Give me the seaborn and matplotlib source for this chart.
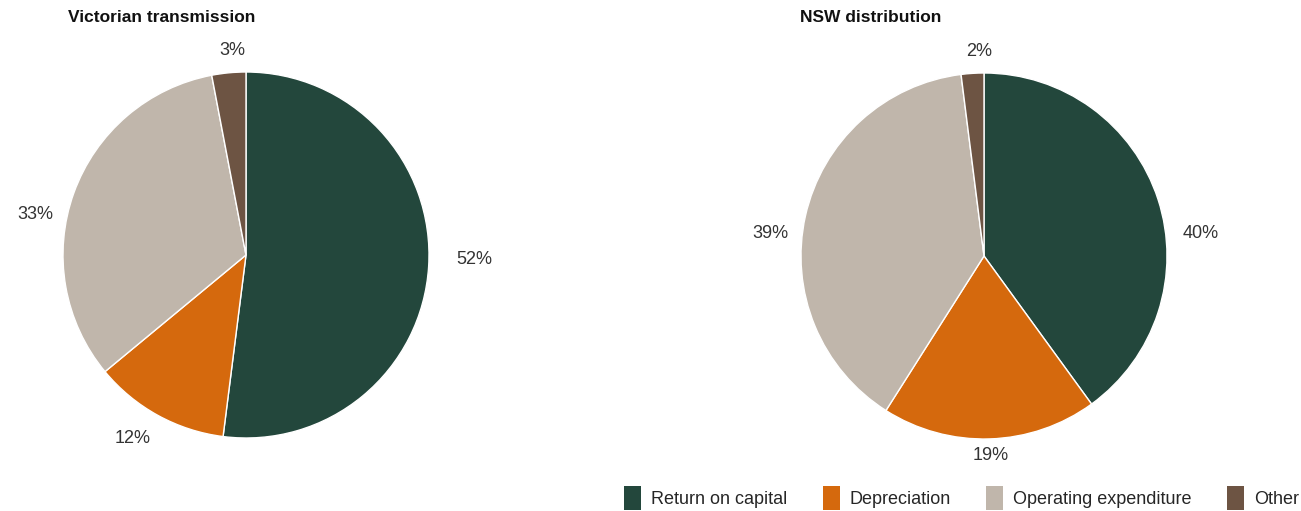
import matplotlib
matplotlib.use("Agg")
import matplotlib.pyplot as plt
import matplotlib.patches as mpatches
import seaborn as sns

# chart data
categories = ["Return on capital", "Depreciation", "Operating expenditure", "Other"]
vic_transmission = [52, 12, 33, 3]
nsw_distribution = [40, 19, 39, 2]
titles = ["Victorian transmission", "NSW distribution"]
colours = ["#23473c", "#d5690d", "#c0b6ab", "#6d5443"]

# where the percentage labels sit, in pie radius units
label_pos = [
    [(1.25, -0.025), (-0.62, -1.0), (-1.15, 0.22), (-0.077, 1.12)],
    [(1.186, 0.125), (0.038, -1.09), (-1.169, 0.125), (-0.027, 1.12)],
]

sns.set_theme(style="white")
plt.rcParams['font.family'] = ['Liberation Sans', 'DejaVu Sans']

fig = plt.figure(figsize=(13.01, 5.11), dpi=100)

# axes boxes in figure fraction (left, bottom, width, height)
boxes = [[63 / 1301, 73 / 511, 366 / 1301, 366 / 511],
         [801 / 1301, 72 / 511, 366 / 1301, 366 / 511]]
title_x = [68 / 1301, 800 / 1301]

for vals, title, box, tx, lpos in zip([vic_transmission, nsw_distribution], titles, boxes, title_x, label_pos):
    ax = fig.add_axes(box)
    wedges, _, pcts = ax.pie(vals, colors=colours, startangle=90, counterclock=False,
                             autopct=lambda p: f"{p:.0f}%", pctdistance=1.19,
                             wedgeprops=dict(edgecolor="white", linewidth=1),
                             textprops=dict(fontsize=13, color="#333333"))
    for t, p in zip(pcts, lpos):
        t.set_position(p)
    ax.set_xlim(-1, 1)
    ax.set_ylim(-1, 1)
    ax.set_aspect("equal")
    fig.text(tx, 1 - 18 / 511, title, fontsize=12.5, fontweight="bold",
             ha="left", va="center", color="#111111")

handles = [mpatches.Patch(facecolor=c, edgecolor="none", label=l) for c, l in zip(colours, categories)]
fig.legend(handles=handles, loc="center right", bbox_to_anchor=(1.0, 1 - 498 / 511),
           ncol=4, frameon=False, fontsize=13, handlelength=0.95, handleheight=1.6,
           handletextpad=0.55, columnspacing=1.95, borderaxespad=0, borderpad=0.1)

fig.savefig("out.png", dpi=100, facecolor="white")
